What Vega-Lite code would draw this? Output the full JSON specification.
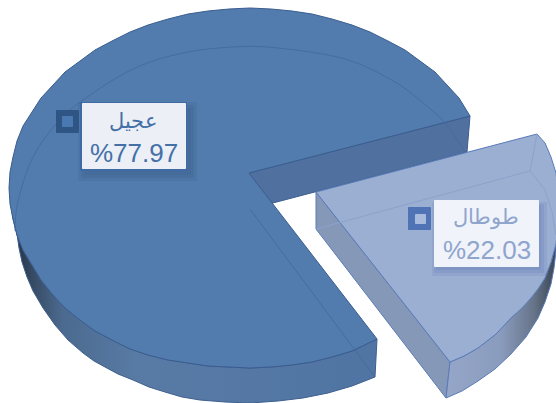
{"$schema":"https://vega.github.io/schema/vega-lite/v6.json","width":556,"height":403,"padding":0,"autosize":{"type":"none"},"background":"white","view":{"stroke":null},
"datasets":{
"outline":[
{"part":"mainWall","seq":1,"x":249,"y":173},{"part":"mainWall","seq":2,"x":470,"y":116},{"part":"mainWall","seq":3,"x":467,"y":152},{"part":"mainWall","seq":4,"x":250,"y":209},
{"part":"mainSide","seq":1,"x":11,"y":205},{"part":"mainSide","seq":2,"x":13,"y":219},{"part":"mainSide","seq":3,"x":17,"y":235},{"part":"mainSide","seq":4,"x":23,"y":250},{"part":"mainSide","seq":5,"x":32,"y":265},{"part":"mainSide","seq":6,"x":41,"y":280},{"part":"mainSide","seq":7,"x":53,"y":295},{"part":"mainSide","seq":8,"x":65,"y":308},{"part":"mainSide","seq":9,"x":80,"y":320},{"part":"mainSide","seq":10,"x":95,"y":331},{"part":"mainSide","seq":11,"x":112,"y":340},{"part":"mainSide","seq":12,"x":130,"y":349},{"part":"mainSide","seq":13,"x":148,"y":355},{"part":"mainSide","seq":14,"x":168,"y":360},{"part":"mainSide","seq":15,"x":188,"y":363},{"part":"mainSide","seq":16,"x":208,"y":366},{"part":"mainSide","seq":17,"x":229,"y":367},{"part":"mainSide","seq":18,"x":250,"y":368},{"part":"mainSide","seq":19,"x":271,"y":367},{"part":"mainSide","seq":20,"x":292,"y":365},{"part":"mainSide","seq":21,"x":312,"y":362},{"part":"mainSide","seq":22,"x":332,"y":357},{"part":"mainSide","seq":23,"x":352,"y":351},{"part":"mainSide","seq":24,"x":377,"y":339},{"part":"mainSide","seq":25,"x":375,"y":377},{"part":"mainSide","seq":26,"x":352,"y":386},{"part":"mainSide","seq":27,"x":328,"y":393},{"part":"mainSide","seq":28,"x":303,"y":398},{"part":"mainSide","seq":29,"x":278,"y":401},{"part":"mainSide","seq":30,"x":250,"y":403},{"part":"mainSide","seq":31,"x":225,"y":402},{"part":"mainSide","seq":32,"x":200,"y":400},{"part":"mainSide","seq":33,"x":182,"y":397},{"part":"mainSide","seq":34,"x":165,"y":392},{"part":"mainSide","seq":35,"x":149,"y":387},{"part":"mainSide","seq":36,"x":133,"y":380},{"part":"mainSide","seq":37,"x":118,"y":374},{"part":"mainSide","seq":38,"x":105,"y":367},{"part":"mainSide","seq":39,"x":94,"y":361},{"part":"mainSide","seq":40,"x":83,"y":353},{"part":"mainSide","seq":41,"x":68,"y":340},{"part":"mainSide","seq":42,"x":55,"y":325},{"part":"mainSide","seq":43,"x":43,"y":308},{"part":"mainSide","seq":44,"x":33,"y":291},{"part":"mainSide","seq":45,"x":27,"y":277},{"part":"mainSide","seq":46,"x":22,"y":262},{"part":"mainSide","seq":47,"x":19,"y":248},{"part":"mainSide","seq":48,"x":17,"y":234},
{"part":"mainTop","seq":1,"x":249,"y":173},{"part":"mainTop","seq":2,"x":470,"y":116},{"part":"mainTop","seq":3,"x":459,"y":98},{"part":"mainTop","seq":4,"x":447,"y":85},{"part":"mainTop","seq":5,"x":435,"y":72},{"part":"mainTop","seq":6,"x":420,"y":61},{"part":"mainTop","seq":7,"x":405,"y":50},{"part":"mainTop","seq":8,"x":388,"y":41},{"part":"mainTop","seq":9,"x":370,"y":32},{"part":"mainTop","seq":10,"x":352,"y":25},{"part":"mainTop","seq":11,"x":332,"y":19},{"part":"mainTop","seq":12,"x":312,"y":14},{"part":"mainTop","seq":13,"x":292,"y":11},{"part":"mainTop","seq":14,"x":271,"y":9},{"part":"mainTop","seq":15,"x":250,"y":8},{"part":"mainTop","seq":16,"x":229,"y":9},{"part":"mainTop","seq":17,"x":208,"y":11},{"part":"mainTop","seq":18,"x":188,"y":14},{"part":"mainTop","seq":19,"x":168,"y":19},{"part":"mainTop","seq":20,"x":148,"y":25},{"part":"mainTop","seq":21,"x":130,"y":32},{"part":"mainTop","seq":22,"x":112,"y":41},{"part":"mainTop","seq":23,"x":95,"y":50},{"part":"mainTop","seq":24,"x":80,"y":61},{"part":"mainTop","seq":25,"x":65,"y":72},{"part":"mainTop","seq":26,"x":53,"y":85},{"part":"mainTop","seq":27,"x":41,"y":98},{"part":"mainTop","seq":28,"x":32,"y":112},{"part":"mainTop","seq":29,"x":23,"y":126},{"part":"mainTop","seq":30,"x":17,"y":141},{"part":"mainTop","seq":31,"x":13,"y":157},{"part":"mainTop","seq":32,"x":10,"y":172},{"part":"mainTop","seq":33,"x":9,"y":188},{"part":"mainTop","seq":34,"x":10,"y":204},{"part":"mainTop","seq":35,"x":13,"y":219},{"part":"mainTop","seq":36,"x":17,"y":235},{"part":"mainTop","seq":37,"x":23,"y":250},{"part":"mainTop","seq":38,"x":32,"y":265},{"part":"mainTop","seq":39,"x":41,"y":280},{"part":"mainTop","seq":40,"x":53,"y":295},{"part":"mainTop","seq":41,"x":65,"y":308},{"part":"mainTop","seq":42,"x":80,"y":320},{"part":"mainTop","seq":43,"x":95,"y":331},{"part":"mainTop","seq":44,"x":112,"y":340},{"part":"mainTop","seq":45,"x":130,"y":349},{"part":"mainTop","seq":46,"x":148,"y":355},{"part":"mainTop","seq":47,"x":168,"y":360},{"part":"mainTop","seq":48,"x":188,"y":363},{"part":"mainTop","seq":49,"x":208,"y":366},{"part":"mainTop","seq":50,"x":229,"y":367},{"part":"mainTop","seq":51,"x":250,"y":368},{"part":"mainTop","seq":52,"x":271,"y":367},{"part":"mainTop","seq":53,"x":292,"y":365},{"part":"mainTop","seq":54,"x":312,"y":362},{"part":"mainTop","seq":55,"x":332,"y":357},{"part":"mainTop","seq":56,"x":352,"y":351},{"part":"mainTop","seq":57,"x":377,"y":339},
{"part":"sliceCut","seq":1,"x":316,"y":192},{"part":"sliceCut","seq":2,"x":450,"y":362},{"part":"sliceCut","seq":3,"x":446,"y":398},{"part":"sliceCut","seq":4,"x":316,"y":229},
{"part":"sliceSide","seq":1,"x":450,"y":362},{"part":"sliceSide","seq":2,"x":464,"y":356},{"part":"sliceSide","seq":3,"x":478,"y":348},{"part":"sliceSide","seq":4,"x":496,"y":334},{"part":"sliceSide","seq":5,"x":511,"y":318},{"part":"sliceSide","seq":6,"x":522,"y":308},{"part":"sliceSide","seq":7,"x":531,"y":298},{"part":"sliceSide","seq":8,"x":538,"y":289},{"part":"sliceSide","seq":9,"x":545,"y":278},{"part":"sliceSide","seq":10,"x":551,"y":262},{"part":"sliceSide","seq":11,"x":556,"y":244},{"part":"sliceSide","seq":12,"x":556,"y":251},{"part":"sliceSide","seq":13,"x":554,"y":268},{"part":"sliceSide","seq":14,"x":551,"y":284},{"part":"sliceSide","seq":15,"x":545,"y":302},{"part":"sliceSide","seq":16,"x":538,"y":318},{"part":"sliceSide","seq":17,"x":526,"y":337},{"part":"sliceSide","seq":18,"x":511,"y":354},{"part":"sliceSide","seq":19,"x":495,"y":369},{"part":"sliceSide","seq":20,"x":478,"y":381},{"part":"sliceSide","seq":21,"x":462,"y":391},{"part":"sliceSide","seq":22,"x":446,"y":398},
{"part":"sliceTop","seq":1,"x":316,"y":192},{"part":"sliceTop","seq":2,"x":537,"y":134},{"part":"sliceTop","seq":3,"x":545,"y":143},{"part":"sliceTop","seq":4,"x":551,"y":157},{"part":"sliceTop","seq":5,"x":556,"y":173},{"part":"sliceTop","seq":6,"x":558,"y":190},{"part":"sliceTop","seq":7,"x":558,"y":207},{"part":"sliceTop","seq":8,"x":558,"y":226},{"part":"sliceTop","seq":9,"x":556,"y":244},{"part":"sliceTop","seq":10,"x":551,"y":262},{"part":"sliceTop","seq":11,"x":545,"y":278},{"part":"sliceTop","seq":12,"x":538,"y":289},{"part":"sliceTop","seq":13,"x":531,"y":298},{"part":"sliceTop","seq":14,"x":522,"y":308},{"part":"sliceTop","seq":15,"x":511,"y":318},{"part":"sliceTop","seq":16,"x":496,"y":334},{"part":"sliceTop","seq":17,"x":478,"y":348},{"part":"sliceTop","seq":18,"x":464,"y":356},{"part":"sliceTop","seq":19,"x":450,"y":362},
{"part":"mainRing","seq":1,"x":15,"y":231},{"part":"mainRing","seq":2,"x":18,"y":201},{"part":"mainRing","seq":3,"x":33,"y":157},{"part":"mainRing","seq":4,"x":57,"y":123},{"part":"mainRing","seq":5,"x":83,"y":100},{"part":"mainRing","seq":6,"x":133,"y":69},{"part":"mainRing","seq":7,"x":183,"y":53},{"part":"mainRing","seq":8,"x":233,"y":47},{"part":"mainRing","seq":9,"x":278,"y":48},{"part":"mainRing","seq":10,"x":345,"y":59},{"part":"mainRing","seq":11,"x":395,"y":82},{"part":"mainRing","seq":12,"x":428,"y":107},{"part":"mainRing","seq":13,"x":445,"y":123},{"part":"mainRing","seq":14,"x":465,"y":152},
{"part":"mainSpoke","seq":1,"x":250,"y":209},{"part":"mainSpoke","seq":2,"x":375,"y":377},
{"part":"sliceRing","seq":1,"x":316,"y":229},{"part":"sliceRing","seq":2,"x":530,"y":171},
{"part":"sliceArc","seq":1,"x":530,"y":171},{"part":"sliceArc","seq":2,"x":545,"y":190},{"part":"sliceArc","seq":3,"x":552,"y":212},{"part":"sliceArc","seq":4,"x":556,"y":235},
{"part":"sliceRib","seq":1,"x":530,"y":171},{"part":"sliceRib","seq":2,"x":537,"y":134}
],
"cards":[
{"role":"shadowA","x":78,"x2":197,"y":102,"y2":181},{"role":"shadowA","x":81,"x2":194,"y":105,"y2":178},{"role":"shadowA","x":84,"x2":191,"y":108,"y2":175},{"role":"borderA","x":80,"x2":187,"y":102,"y2":171},{"role":"cardA","x":82,"x2":186,"y":103,"y2":169},{"role":"ringA","x":56,"x2":79,"y":110,"y2":133},{"role":"coreA","x":62,"x2":73,"y":116,"y2":127},
{"role":"shadowB","x":432,"x2":547,"y":202,"y2":276},{"role":"shadowB","x":434,"x2":544,"y":204,"y2":273},{"role":"shadowB","x":436,"x2":541,"y":205,"y2":270},{"role":"cardB","x":434,"x2":539,"y":200,"y2":267},{"role":"ringB","x":408,"x2":431,"y":207,"y2":230},{"role":"coreB","x":415,"x2":426,"y":214,"y2":224}
],
"labels":[
{"group":"A","kind":"name","text":"عجيل","x":133,"y":128},{"group":"A","kind":"share","text":"%77.97","x":134,"y":162},
{"group":"B","kind":"name","text":"طوطال","x":486,"y":224},{"group":"B","kind":"share","text":"%22.03","x":487,"y":259}
]},
"encoding":{"x":{"field":"x","type":"quantitative","scale":{"domain":[0,556],"nice":false,"zero":false},"axis":null},"y":{"field":"y","type":"quantitative","scale":{"domain":[403,0],"nice":false,"zero":false},"axis":null}},
"layer":[
{"data":{"name":"outline"},"transform":[{"filter":"datum.part==='mainWall'"}],"mark":{"type":"line","interpolate":"linear-closed","fill":"#50719f","stroke":"#3d5f8f","strokeWidth":1},"encoding":{"order":{"field":"seq"}}},
{"data":{"name":"outline"},"transform":[{"filter":"datum.part==='mainSide'"}],"mark":{"type":"line","interpolate":"linear-closed","stroke":"#3d5f8f","strokeWidth":1,"fill":{"gradient":"linear","x1":0,"y1":0,"x2":1,"y2":0,"stops":[{"offset":0,"color":"#1f2b3d"},{"offset":0.05,"color":"#34475f"},{"offset":0.14,"color":"#4c6a8f"},{"offset":0.35,"color":"#587ba5"},{"offset":1,"color":"#5074a3"}]}},"encoding":{"order":{"field":"seq"}}},
{"data":{"name":"outline"},"transform":[{"filter":"datum.part==='mainTop'"}],"mark":{"type":"line","interpolate":"linear-closed","fill":"#527bae","stroke":"#3a5d8f","strokeWidth":1},"encoding":{"order":{"field":"seq"}}},
{"data":{"name":"outline"},"transform":[{"filter":"datum.part==='mainRing'"}],"mark":{"type":"line","interpolate":"cardinal","stroke":"#44699b","strokeWidth":1,"opacity":0.8},"encoding":{"order":{"field":"seq"}}},
{"data":{"name":"outline"},"transform":[{"filter":"datum.part==='mainSpoke'"}],"mark":{"type":"line","stroke":"#44699b","strokeWidth":1,"opacity":0.8},"encoding":{"order":{"field":"seq"}}},
{"data":{"name":"outline"},"transform":[{"filter":"datum.part==='sliceCut'"}],"mark":{"type":"line","interpolate":"linear-closed","fill":"#8698b8","stroke":"#5a7bb8","strokeWidth":1},"encoding":{"order":{"field":"seq"}}},
{"data":{"name":"outline"},"transform":[{"filter":"datum.part==='sliceSide'"}],"mark":{"type":"line","interpolate":"linear-closed","stroke":"#5a7bb8","strokeWidth":1,"fill":{"gradient":"linear","x1":0,"y1":0,"x2":1,"y2":0,"stops":[{"offset":0,"color":"#95a6c9"},{"offset":0.5,"color":"#8a9cbd"},{"offset":0.8,"color":"#667489"},{"offset":1,"color":"#3a4454"}]}},"encoding":{"order":{"field":"seq"}}},
{"data":{"name":"outline"},"transform":[{"filter":"datum.part==='sliceTop'"}],"mark":{"type":"line","interpolate":"linear-closed","fill":"#9bafd2","stroke":"#5a7bb8","strokeWidth":1},"encoding":{"order":{"field":"seq"}}},
{"data":{"name":"outline"},"transform":[{"filter":"datum.part==='sliceRing'"}],"mark":{"type":"line","stroke":"#8ba2cb","strokeWidth":1},"encoding":{"order":{"field":"seq"}}},
{"data":{"name":"outline"},"transform":[{"filter":"datum.part==='sliceArc'"}],"mark":{"type":"line","stroke":"#8ba2cb","strokeWidth":1},"encoding":{"order":{"field":"seq"}}},
{"data":{"name":"outline"},"transform":[{"filter":"datum.part==='sliceRib'"}],"mark":{"type":"line","stroke":"#8ba2cb","strokeWidth":1},"encoding":{"order":{"field":"seq"}}},
{"data":{"name":"cards"},"mark":{"type":"rect","cornerRadius":1},"encoding":{"x2":{"field":"x2"},"y2":{"field":"y2"},"color":{"field":"role","type":"nominal","legend":null,"scale":{"domain":["shadowA","borderA","cardA","ringA","coreA","shadowB","cardB","ringB","coreB"],"range":["rgba(40,70,110,0.11)","#3f6aa3","#eceff6","#2f5585","#4a78b0","rgba(90,115,175,0.16)","#f0f3fa","#4f73b4","#a9bbdc"]}}}},
{"data":{"name":"labels"},"transform":[{"filter":"datum.kind==='name'"}],"mark":{"type":"text","font":"Liberation Sans","fontSize":21,"align":"center","baseline":"alphabetic"},"encoding":{"text":{"field":"text"},"color":{"field":"group","type":"nominal","legend":null,"scale":{"domain":["A","B"],"range":["#4470a8","#8fa5cd"]}}}},
{"data":{"name":"labels"},"transform":[{"filter":"datum.kind==='share'"}],"mark":{"type":"text","font":"Liberation Sans","fontSize":26,"align":"center","baseline":"alphabetic"},"encoding":{"text":{"field":"text"},"color":{"field":"group","type":"nominal","legend":null,"scale":{"domain":["A","B"],"range":["#4470a8","#8fa5cd"]}}}}
],
"resolve":{"scale":{"color":"independent"}}}
